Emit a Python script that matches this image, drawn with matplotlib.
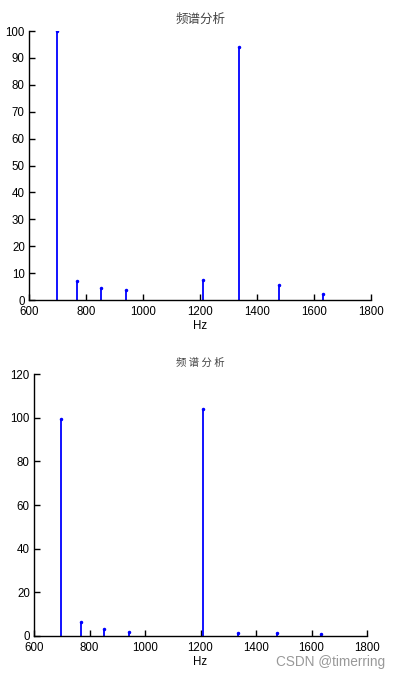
import matplotlib
matplotlib.use("Agg")
import matplotlib.pyplot as plt

freqs = [697, 770, 852, 941, 1209, 1336, 1477, 1633]
amp_top = [100, 7.1, 4.4, 3.6, 7.4, 94.2, 5.4, 2.4]
amp_bottom = [99.2, 6.6, 3.4, 1.8, 103.8, 1.5, 1.2, 0.9]
title = "频谱分析"
xlabel = "Hz"
xticks = [600, 800, 1000, 1200, 1400, 1600, 1800]
yticks_top = [0, 10, 20, 30, 40, 50, 60, 70, 80, 90, 100]
yticks_bottom = [0, 20, 40, 60, 80, 100, 120]

plt.rcParams['font.family'] = ['Liberation Sans', 'Noto Sans CJK SC', 'DejaVu Sans']

fig = plt.figure(figsize=(4.02, 6.76), dpi=100)

def draw(ax, vals, yticks, ylim, xpad):
    m, s, b = ax.stem(freqs, vals, linefmt='b-', markerfmt='b.', basefmt=' ')
    plt.setp(s, linewidth=1.3)
    plt.setp(m, markersize=3)
    ax.set_xlim(600, 1800)
    ax.set_ylim(*ylim)
    ax.set_xticks(xticks)
    ax.set_yticks(yticks)
    for sp in ['top', 'right']:
        ax.spines[sp].set_visible(False)
    for sp in ['left', 'bottom']:
        ax.spines[sp].set_linewidth(1.0)
    ax.tick_params(direction='in', length=4, width=1, labelsize=8.3)
    ax.tick_params(axis='x', pad=xpad)
    ax.tick_params(axis='y', pad=3)
    ax.set_xlabel(xlabel, fontsize=8.3, labelpad=1)

ax1 = fig.add_axes([0.0721, 0.5562, 0.851, 0.3979])
draw(ax1, amp_top, yticks_top, (0, 100), 4.5)
ax1.set_title(title, fontsize=9, color='#444444', family=['Noto Sans CJK SC'], pad=6)
ax2 = fig.add_axes([0.0846, 0.0592, 0.8284, 0.3875])
draw(ax2, amp_bottom, yticks_bottom, (0, 120), 4.5)
ax2.set_title(" ".join(title), fontsize=7.5, color='#444444', family=['Noto Sans CJK SC'], pad=6)

fig.text(0.957, 0.0155, "CSDN @timerring", ha='right', va='baseline', fontsize=9.8, color='#999999')

fig.savefig("out.png", dpi=100)
